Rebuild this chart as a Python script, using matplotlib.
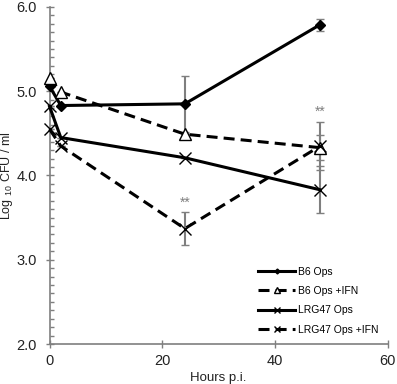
import matplotlib
matplotlib.use("Agg")
import matplotlib.pyplot as plt
from matplotlib.ticker import MultipleLocator

plt.rcParams['font.family'] = ['Liberation Sans', 'DejaVu Sans']
plt.rcParams['mathtext.fontset'] = 'custom'
plt.rcParams['mathtext.rm'] = 'Liberation Sans'
plt.rcParams['mathtext.default'] = 'regular'

hours = [0, 2, 24, 48]
b6 = [5.06, 4.83, 4.85, 5.79]
b6_err = [0.0, 0.0, 0.33, 0.07]
b6_ifn = [5.16, 4.99, 4.49, 4.33]
b6_ifn_err = [0.0, 0.0, 0.0, 0.15]
lrg = [4.82, 4.45, 4.21, 3.83]
lrg_err = [0.0, 0.0, 0.0, 0.28]
lrg_ifn = [4.55, 4.35, 3.37, 4.35]
lrg_ifn_err = [0.0, 0.0, 0.20, 0.28]
labels = ["B6 Ops", "B6 Ops +IFN", "LRG47 Ops", "LRG47 Ops +IFN"]
sig_x = [24, 48]
sig_y = [3.68, 4.75]

gray = '#7f7f7f'
fig = plt.figure(figsize=(3.97, 3.84), dpi=100)
ax = fig.add_axes([0.1247, 0.104, 0.8523, 0.878])

series = [
    (b6, b6_err, '-', 'D', 'black', 5),
    (b6_ifn, b6_ifn_err, '--', '^', 'white', 9),
    (lrg, lrg_err, '-', 'x', 'black', 8),
    (lrg_ifn, lrg_ifn_err, '--', 'x', 'black', 9),
]
handles = []
for (vals, err, ls, mk, mfc, ms), lab in zip(series, labels):
    ax.errorbar(hours, vals, yerr=err, fmt='none', ecolor=gray, elinewidth=1.5,
                capsize=3, capthick=1, zorder=2)
    ln, = ax.plot(hours, vals, linestyle=ls, color='black', linewidth=2.2,
                  marker=mk, markersize=ms, markerfacecolor=mfc,
                  markeredgecolor='black', markeredgewidth=1.0,
                  dashes=(3.6, 2.0) if ls == '--' else (None, None), zorder=3,
                  label=lab, clip_on=False)
    handles.append(ln)

for x, y in zip(sig_x, sig_y):
    ax.text(x, y, '**', ha='center', va='center', fontsize=10, color=gray)

ax.set_xlim(0, 60)
ax.xaxis.set_major_locator(MultipleLocator(20))
ax.yaxis.set_minor_locator(MultipleLocator(0.1))
ax.set_yticks([2.0, 3.0, 4.0, 5.0, 6.0])
ax.set_yticklabels(["2.0", "3.0", "4.0", "5.0", "6.0"])
ax.set_ylim(2.0, 6.0)

for s in ['top', 'right']:
    ax.spines[s].set_visible(False)
for s in ['left', 'bottom']:
    ax.spines[s].set_color(gray)
    ax.spines[s].set_linewidth(1.2)
ax.tick_params(which='major', direction='inout', length=6, width=1, color=gray,
               labelsize=10.5, labelcolor='#222222')
ax.tick_params(axis='y', which='major', pad=6)
ax.tick_params(axis='x', which='major', pad=4)
ax.tick_params(which='minor', direction='in', length=3, width=1, color=gray)
ax.tick_params(axis='x', which='minor', length=0)

ax.set_xlabel('Hours p.i.', fontsize=9.5, color='#222222', labelpad=3)
ax.set_ylabel('Log $_{10}$ CFU / ml', fontsize=9, color='#222222')
ax.yaxis.set_label_coords(-0.102, 0.5)

ax.legend(handles=handles, loc='lower right', bbox_to_anchor=(1.0, 0.0),
          frameon=False, fontsize=7.5, handlelength=3.5, handletextpad=0.3,
          labelspacing=0.9, markerscale=0.5)

fig.savefig('out.png', dpi=100)
